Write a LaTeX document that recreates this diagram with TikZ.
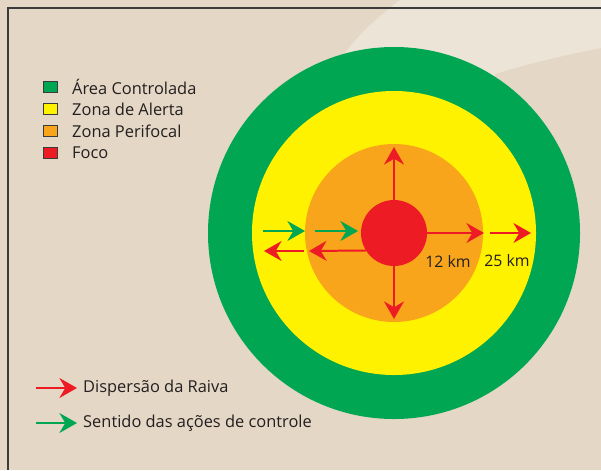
\documentclass[tikz,border=0pt]{standalone}
\usepackage{fontspec}
\setmainfont{Open Sans}
\usetikzlibrary{arrows.meta}
\definecolor{fundo}{HTML}{E5D7C5}
\definecolor{claro}{HTML}{EDE4D8}
\definecolor{moldura}{HTML}{3B3B3B}
\definecolor{texto}{HTML}{231F20}
\definecolor{verde}{HTML}{00A651}
\definecolor{amarelo}{HTML}{FFF200}
\definecolor{laranja}{HTML}{F8A51C}
\definecolor{raiva}{HTML}{ED1C24}
\tikzset{
  zona/.style={circle, inner sep=0pt, outer sep=0pt},
  seta/.style={line width=1.7pt, -{Stealth[length=15pt,width=17pt,inset=5pt]}},
  dispersao/.style={seta, draw=raiva},
  controle/.style={seta, draw=verde},
  caixa/.style={draw=moldura, line width=0.7pt, minimum width=12pt, minimum height=9pt, inner sep=0pt},
  rotulo/.style={anchor=west, text=texto, inner sep=0pt, font=\fontsize{14}{16}\selectfont},
  distancia/.style={text=texto, inner sep=0pt, font=\fontsize{13.5}{16}\selectfont},
}
\begin{document}
\begin{tikzpicture}[x=0.03cm, y=-0.03cm]
\useasboundingbox (0,0) rectangle (601,470);
\fill[fundo] (0,0) rectangle (601,470);
\fill[claro] (400,0) .. controls (375,20) and (350,40) .. (335,70) -- (330,95) -- (495,90)
  -- (495,74) .. controls (530,63) and (570,54) .. (601,48) -- (601,0) -- cycle;
\draw[moldura, line width=1.3pt] (601,8) -- (8,8) -- (8,470);
% zonas
\node[zona, fill=verde, minimum size=11.16cm] (Z_verde) at (394,233) {};
\node[zona, fill=amarelo, minimum size=8.52cm] (Z_amarela) at (394,233) {};
\node[zona, fill=laranja, minimum size=5.34cm] (Z_laranja) at (394,233) {};
\node[zona, fill=raiva, minimum size=1.98cm] (foco) at (394,233) {};
% dispersao
\coordinate (P_cima) at (394,147);
\coordinate (P_baixo) at (394,319);
\coordinate (P_dir_1) at (484,233);
\coordinate (P_dir_2a) at (490,233);
\coordinate (P_dir_2b) at (531,233);
\coordinate (P_esq_1) at (309,251);
\coordinate (P_esq_2a) at (304,251);
\coordinate (P_esq_2b) at (264,251);
\draw[dispersao] (foco.north) -- (P_cima);
\draw[dispersao] (foco.south) -- (P_baixo);
\draw[dispersao] (foco.east) -- (P_dir_1);
\draw[dispersao] (P_dir_2a) -- (P_dir_2b);
\draw[dispersao] (foco.212) -- (P_esq_1);
\draw[dispersao] (P_esq_2a) -- (P_esq_2b);
% controle
\coordinate (C_1a) at (263,231);
\coordinate (C_1b) at (305,231);
\coordinate (C_2a) at (315,231);
\coordinate (C_2b) at (358,231);
\draw[controle] (C_1a) -- (C_1b);
\draw[controle] (C_2a) -- (C_2b);
\node[distancia] (km_12) at (448,261) {12 km};
\node[distancia] (km_25) at (507,261) {25 km};
% legenda
\node[caixa, fill=verde] (L_0) at (50,87) {};
\node[rotulo] (T_0) at (72,87) {Área Controlada};
\node[caixa, fill=amarelo] (L_1) at (50,109) {};
\node[rotulo] (T_1) at (72,109) {Zona de Alerta};
\node[caixa, fill=laranja] (L_2) at (50,131) {};
\node[rotulo] (T_2) at (72,131) {Zona Perifocal};
\node[caixa, fill=raiva] (L_3) at (50,153) {};
\node[rotulo] (T_3) at (72,153) {Foco};
\coordinate (S_0a) at (36,388);
\coordinate (S_0b) at (77,388);
\draw[dispersao] (S_0a) -- (S_0b);
\node[rotulo] (T_4) at (83,388) {Dispersão da Raiva};
\coordinate (S_1a) at (36,423);
\coordinate (S_1b) at (77,423);
\draw[controle] (S_1a) -- (S_1b);
\node[rotulo] (T_5) at (83,423) {Sentido das ações de controle};
\end{tikzpicture}
\end{document}
